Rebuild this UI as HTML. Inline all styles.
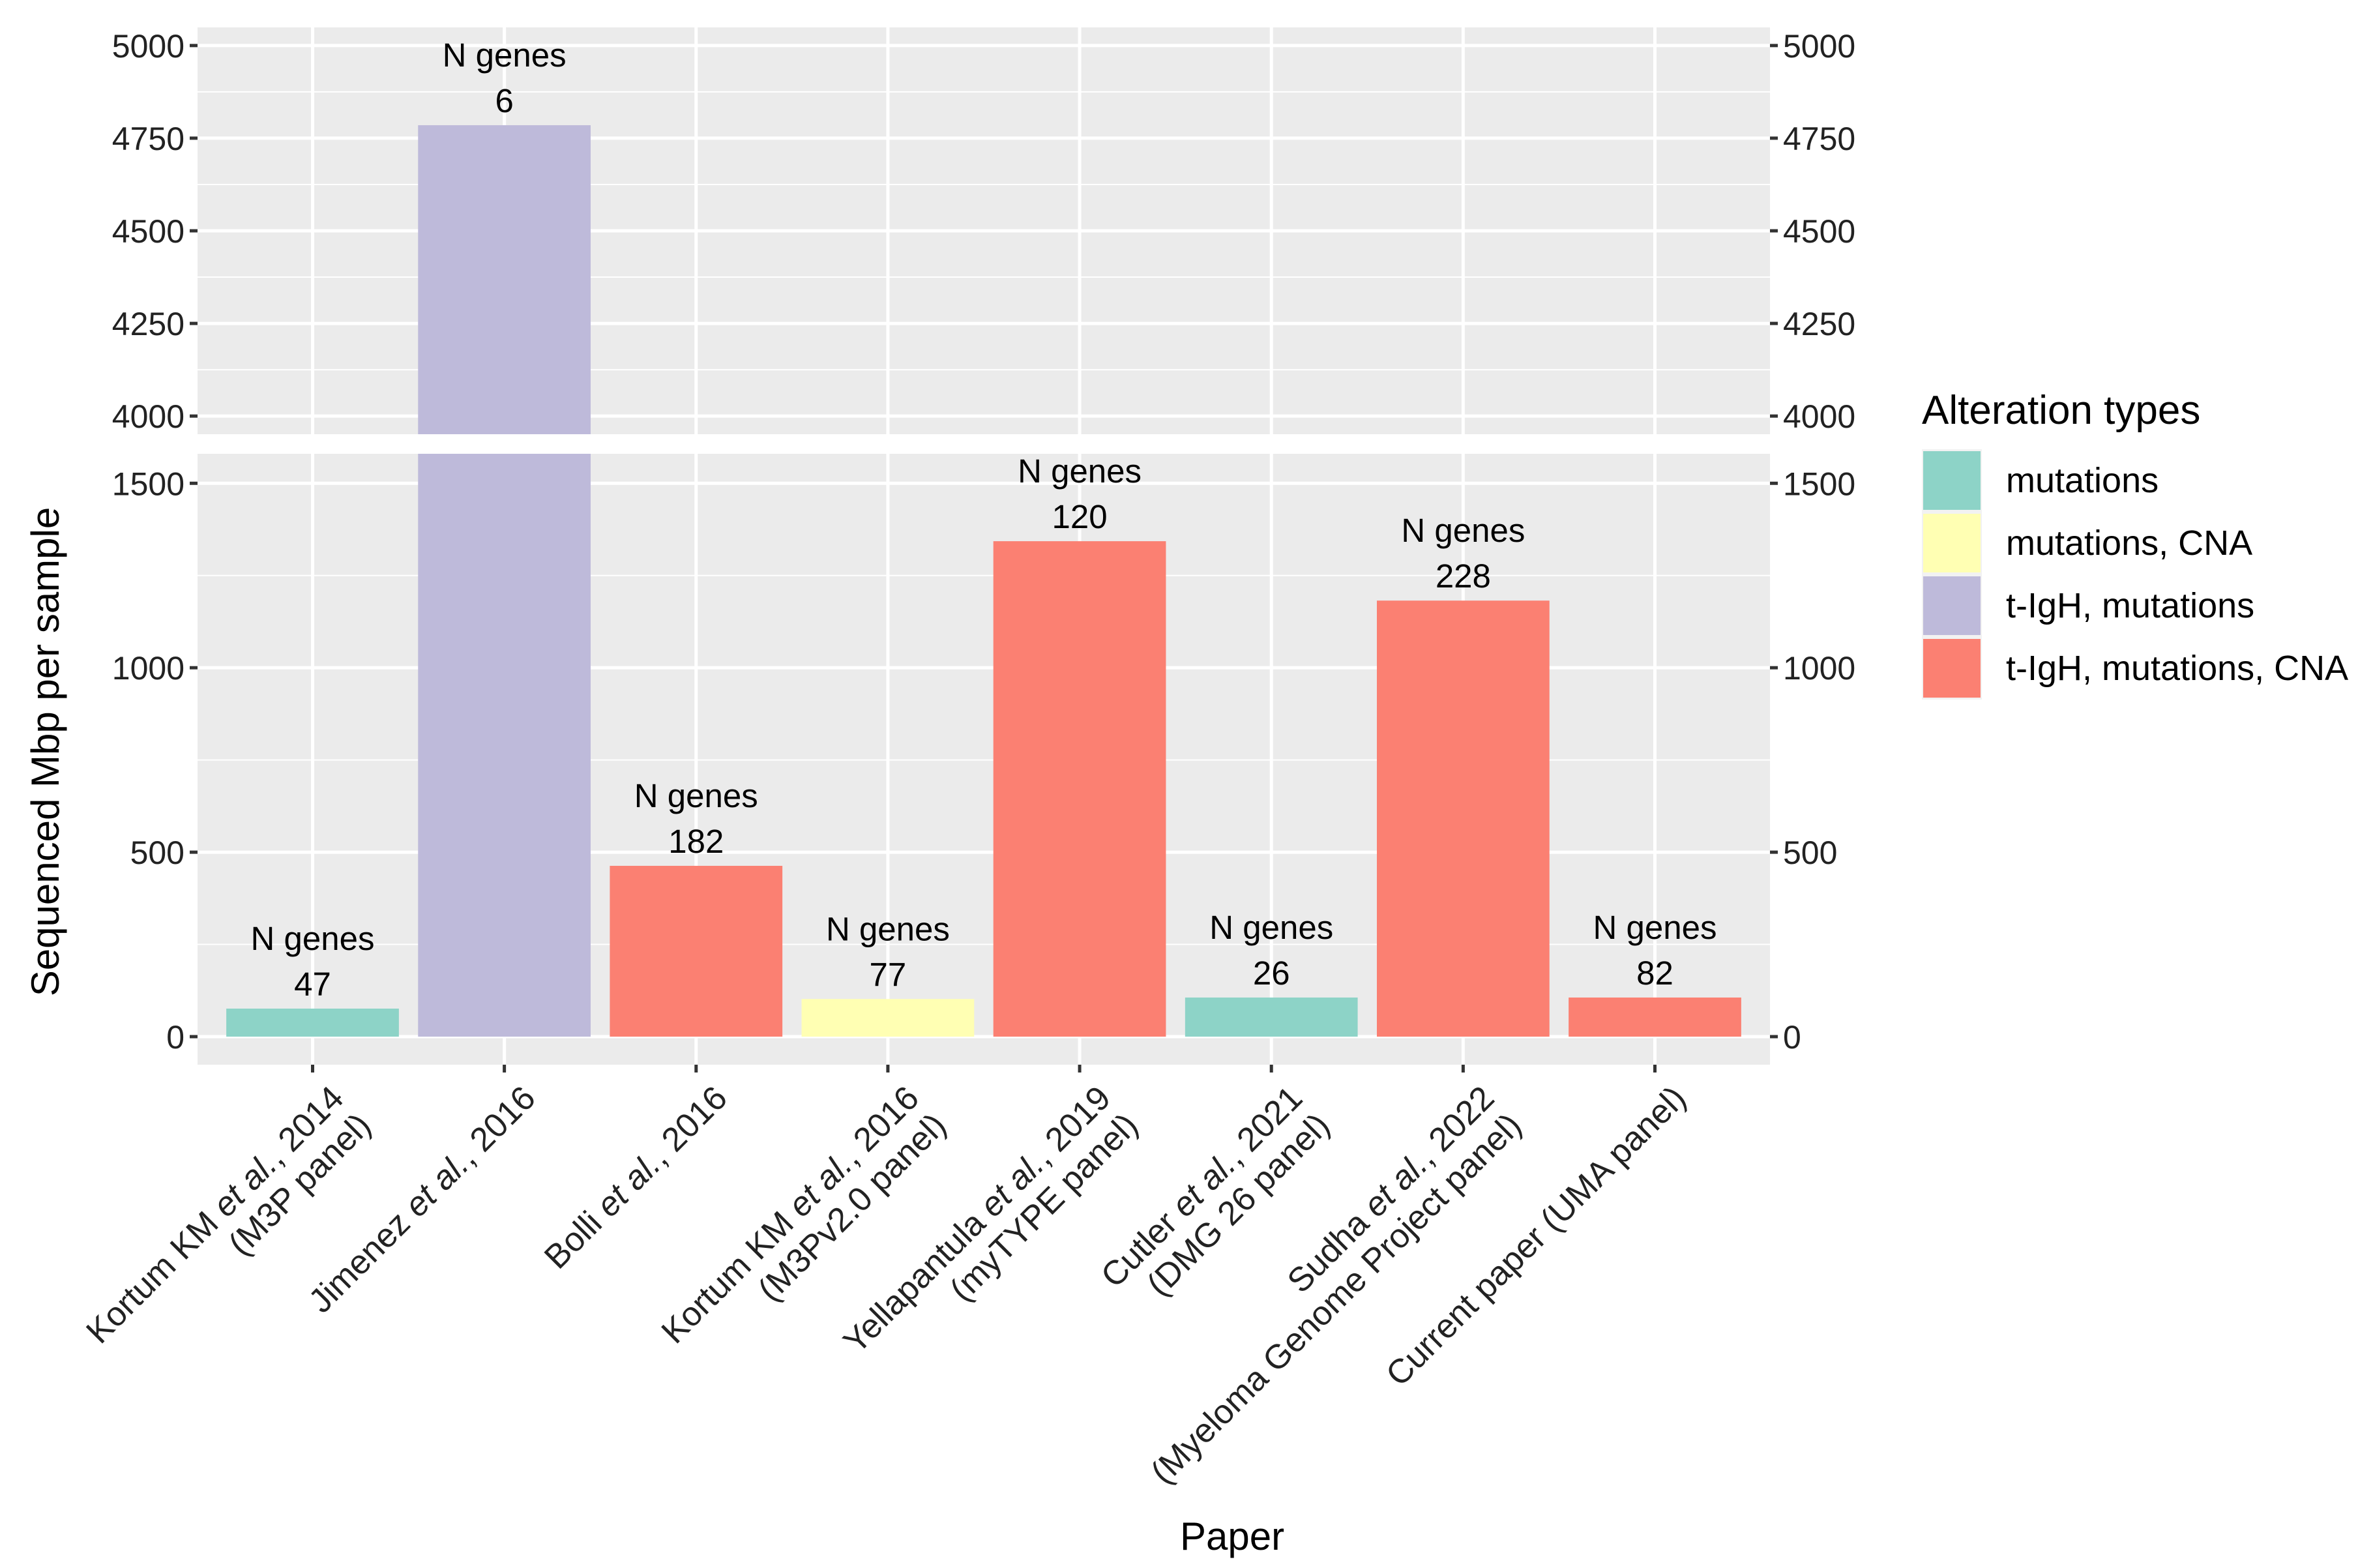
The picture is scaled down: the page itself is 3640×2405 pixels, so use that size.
<!DOCTYPE html>
<html><head><meta charset="utf-8"><style>
html,body{margin:0;padding:0;background:#fff;overflow:hidden;width:3640px;height:2405px;}
svg{display:block;font-family:"Liberation Sans",Arial,sans-serif;}
</style></head><body>
<svg id="chart" xmlns="http://www.w3.org/2000/svg" width="3640" height="2405" viewBox="0 0 3640 2405">
<g id="top-panel"></g>
<g id="bottom-panel"></g>
<g id="xlabels"></g>
<text x="0" y="0" transform="translate(90,1153) rotate(-90)" text-anchor="middle" font-size="60" fill="#000">Sequenced Mbp per sample</text>
<text x="1890" y="2377" text-anchor="middle" font-size="60" fill="#000">Paper</text>
<g id="legend"></g>
</svg>
<script>
const categories = [
  ["Kortum KM <i>et al.</i>, 2014", "(M3P panel)"],
  ["Jimenez <i>et al.</i>, 2016"],
  ["Bolli <i>et al.</i>, 2016"],
  ["Kortum KM <i>et al.</i>, 2016", "(M3Pv2.0 panel)"],
  ["Yellapantula <i>et al.</i>, 2019", "(myTYPE panel)"],
  ["Cutler <i>et al.</i>, 2021", "(DMG 26 panel)"],
  ["Sudha <i>et al.</i>, 2022", "(Myeloma Genome Project panel)"],
  ["Current paper (UMA panel)"]
];
const values = [76, 4785, 463, 102, 1343, 106, 1182, 106];
const nGenes = [47, 6, 182, 77, 120, 26, 228, 82];
const types = [0, 2, 3, 1, 3, 0, 3, 3];
const typeNames = ["mutations", "mutations, CNA", "t-IgH, mutations", "t-IgH, mutations, CNA"];
const typeColors = ["#8DD3C7", "#FFFFB3", "#BEBADA", "#FB8072"];
const topTicks = [4000, 4250, 4500, 4750, 5000];
const botTicks = [0, 500, 1000, 1500];

const NS = "http://www.w3.org/2000/svg";
const PL = 303, PR = 2715;
const N = categories.length, EXP = 0.6;
const BAND = (PR - PL) / (N - 1 + 2 * EXP);
const xC = i => PL + BAND * (EXP + i);
const TT = 42, TB = 666, tMin = 3951, tMax = 5049;
const yT = v => TB - (v - tMin) / (tMax - tMin) * (TB - TT);
const BT = 696, BB = 1633, bMin = -76, bMax = 1580;
const yB = v => BB - (v - bMin) / (bMax - bMin) * (BB - BT);

function el(tag, attrs, parent) {
  const e = document.createElementNS(NS, tag);
  for (const k in attrs) e.setAttribute(k, attrs[k]);
  parent.appendChild(e);
  return e;
}

function panel(g, top, bot, ticks, yf, minorStep, vmin, vmax) {
  const bg = el("rect", {x: PL, y: top, width: PR - PL, height: bot - top, fill: "#EBEBEB"}, g);
  
  
  for (let v = Math.ceil(vmin / minorStep) * minorStep; v <= vmax; v += minorStep) {
    if (ticks.includes(v)) continue;
    const l = el("line", {x1: PL, x2: PR, y1: yf(v), y2: yf(v), stroke: "#fff", "stroke-width": 2}, g);
    
    
  }
  ticks.forEach(v => {
    const l = el("line", {x1: PL, x2: PR, y1: yf(v), y2: yf(v), stroke: "#fff", "stroke-width": 5}, g);
    
    
    el("line", {x1: PL - 12, x2: PL, y1: yf(v), y2: yf(v), stroke: "#333", "stroke-width": 5}, g);
    el("line", {x1: PR, x2: PR + 12, y1: yf(v), y2: yf(v), stroke: "#333", "stroke-width": 5}, g);
    const t1 = el("text", {x: PL - 20, y: yf(v) + 18, "text-anchor": "end", "font-size": 50, fill: "#222"}, g);
    t1.textContent = v;
    
    
    const t2 = el("text", {x: PR + 20, y: yf(v) + 18, "text-anchor": "start", "font-size": 50, fill: "#222"}, g);
    t2.textContent = v;
    
    
  });
  categories.forEach((c, i) => {
    const l = el("line", {x1: xC(i), x2: xC(i), y1: top, y2: bot, stroke: "#fff", "stroke-width": 5}, g);
    
    
  });
  const clipId = "clip" + top;
  const cp = el("clipPath", {id: clipId}, g);
  el("rect", {x: PL, y: top, width: PR - PL, height: bot - top}, cp);
  const bars = el("g", {"clip-path": "url(#" + clipId + ")"}, g);
  values.forEach((v, i) => {
    const w = BAND * 0.9;
    if (v <= vmin) return;
    const y1 = Math.max(yf(v), top - 10);
    const yy = Math.min(yf(Math.max(0, vmin)), bot + 10);
    const r = el("rect", {x: xC(i) - w / 2, y: y1, width: w, height: Math.max(0, yy - y1), fill: typeColors[types[i]]}, bars);
    
    
    if (v <= vmax) {
      const ty = yf(v);
      const a = el("text", {x: xC(i), y: ty - 90, "text-anchor": "middle", "font-size": 51, fill: "#000"}, g);
      a.textContent = "N genes";
      
      
      const b = el("text", {x: xC(i), y: ty - 20, "text-anchor": "middle", "font-size": 51, fill: "#000"}, g);
      b.textContent = nGenes[i];
      
      
    }
  });
}
panel(document.getElementById("top-panel"), TT, TB, topTicks, yT, 125, tMin, tMax);
panel(document.getElementById("bottom-panel"), BT, BB, botTicks, yB, 250, bMin, bMax);

const xl = document.getElementById("xlabels");
categories.forEach((c, i) => {
  el("line", {x1: xC(i), x2: xC(i), y1: BB, y2: BB + 12, stroke: "#333", "stroke-width": 5}, xl);
  const fo = el("foreignObject", {x: 0, y: 0, width: 1200, height: 140,
    transform: "translate(" + (xC(i) + 18) + "," + (BB + 22) + ") rotate(-45) translate(-1200,0)"}, xl);
  const div = document.createElement("div");
  div.setAttribute("xmlns", "http://www.w3.org/1999/xhtml");
  div.style.cssText = "text-align:right;font-family:'Liberation Sans',Arial,sans-serif;font-size:52px;line-height:59px;color:#222;";
  div.innerHTML = c.join("<br>");
  
  
  fo.appendChild(div);
});

const lg = document.getElementById("legend");
const lt = el("text", {x: 2948, y: 650, "font-size": 62, fill: "#000"}, lg);
lt.textContent = "Alteration types";


typeNames.forEach((n, k) => {
  const y = 689 + k * 96;
  el("rect", {x: 2948, y: y, width: 92, height: 96, fill: "#F2F2F2"}, lg);
  const r = el("rect", {x: 2950, y: y + 3, width: 88, height: 90, fill: typeColors[k]}, lg);
  
  
  const t = el("text", {x: 3077, y: y + 66, "font-size": 54, fill: "#000"}, lg);
  t.textContent = n;
  
  
});
</script>
</body></html>
